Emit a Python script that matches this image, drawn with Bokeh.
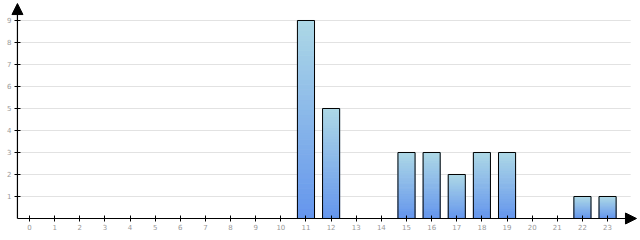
import numpy as np
from bokeh.plotting import figure
from bokeh.models import Range1d, FixedTicker, Arrow, NormalHead
from bokeh.embed import file_html
from bokeh.resources import INLINE

hours = list(range(24))
counts = [0, 0, 0, 0, 0, 0, 0, 0, 0, 0, 0, 9, 5, 0, 0, 3, 3, 2, 3, 3, 0, 0, 1, 1]
y_ticks = [1, 2, 3, 4, 5, 6, 7, 8, 9]

top_color = np.array([0xAD, 0xD8, 0xE6])
bottom_color = np.array([0x64, 0x95, 0xED])
bar_w = 0.68
N = 40
x_axis_pos = -0.48
x_grid_end = 23.92
x_arrow_end = 24.15
y_arrow_end = 9.77

p = figure(width=640, height=240, output_backend="svg", toolbar_location=None,
           x_range=Range1d(-1.154, 24.31), y_range=Range1d(-1.0, 9.909),
           min_border=0)
p.outline_line_color = None
p.background_fill_color = "white"
p.border_fill_color = "white"
p.xgrid.grid_line_color = None
p.ygrid.grid_line_color = None

# horizontal grid lines
p.segment(x0=x_axis_pos, x1=x_grid_end, y0=y_ticks, y1=y_ticks, line_color="#e2e2e2", line_width=1)

# gradient bars
ls, rs, bs, ts, cs = [], [], [], [], []
for h, v in zip(hours, counts):
    if v <= 0:
        continue
    for k in range(N):
        f = (k + 0.5) / N
        c = bottom_color * (1 - f) + top_color * f
        ls.append(h - bar_w / 2); rs.append(h + bar_w / 2)
        bs.append(v * k / N); ts.append(v * (k + 1) / N)
        cs.append("#%02x%02x%02x" % tuple(int(round(x)) for x in c))
p.quad(left=ls, right=rs, bottom=bs, top=ts, fill_color=cs, line_color=cs, line_width=1)

nz = [(h, v) for h, v in zip(hours, counts) if v > 0]
p.quad(left=[h - bar_w / 2 for h, v in nz], right=[h + bar_w / 2 for h, v in nz],
       bottom=0, top=[v for h, v in nz], fill_alpha=0, line_color="black", line_width=1)

for ax, ticks, loc in ((p.xaxis[0], hours, 0), (p.yaxis[0], y_ticks, x_axis_pos)):
    ax.fixed_location = loc
    ax.ticker = FixedTicker(ticks=ticks)
    ax.minor_tick_line_color = None
    ax.major_tick_in = 3
    ax.major_tick_out = 3
    ax.axis_line_color = None
    ax.major_tick_line_color = "black"
    ax.major_label_text_font = "DejaVu Sans"
    ax.major_label_text_font_size = "7px"
    ax.major_label_text_color = "#999999"
    ax.major_label_standoff = 3

p.add_layout(Arrow(end=NormalHead(size=11, fill_color="black", line_color="black", line_width=1),
                   x_start=x_axis_pos, y_start=0, x_end=x_axis_pos, y_end=y_arrow_end,
                   line_color="black", line_width=1.2))
p.add_layout(Arrow(end=NormalHead(size=11, fill_color="black", line_color="black", line_width=1),
                   x_start=x_axis_pos, y_start=0, x_end=x_arrow_end, y_end=0,
                   line_color="black", line_width=1.2))

open("out.html", "w").write(file_html(p, INLINE))
